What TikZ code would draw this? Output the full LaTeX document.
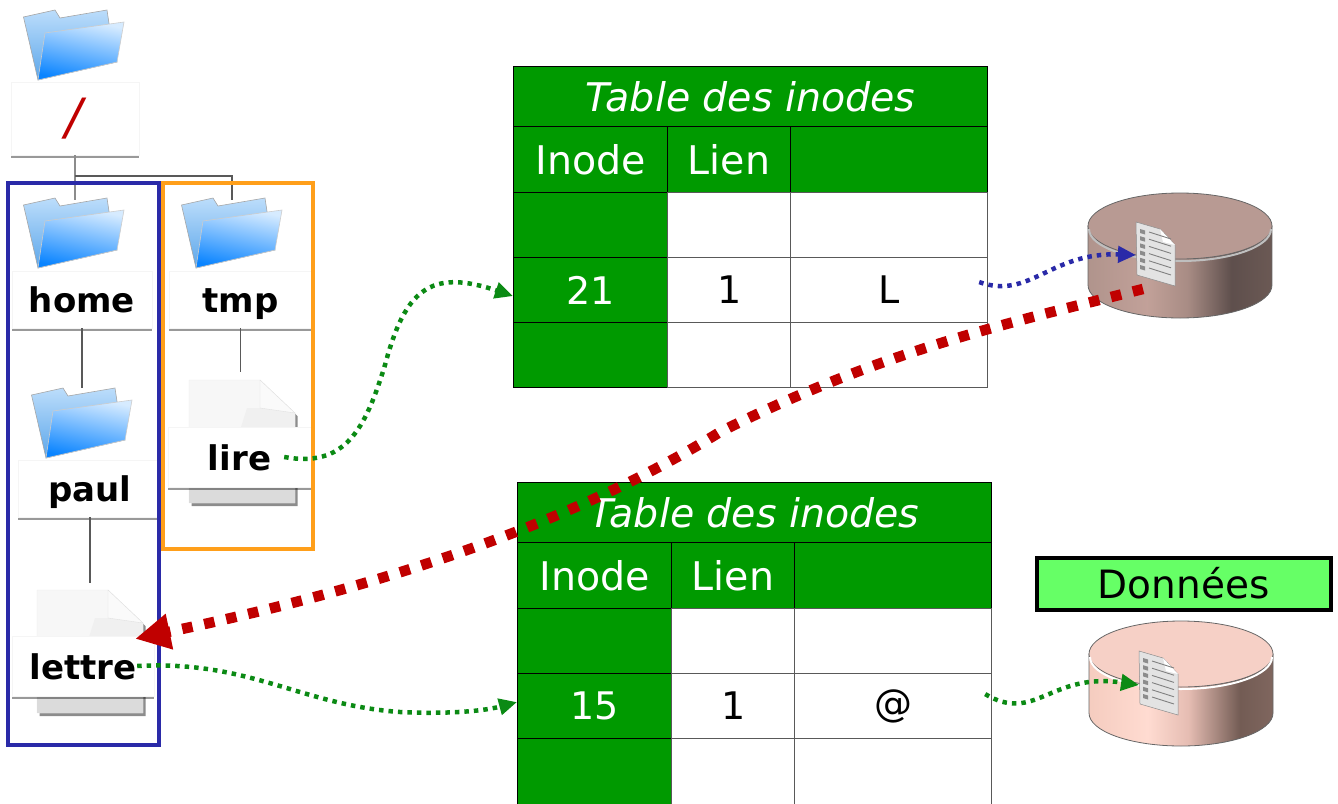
\documentclass[tikz,border=0pt]{standalone}
\usepackage{fontspec}
\setmainfont{DejaVu Sans}
\usetikzlibrary{arrows.meta,shadows}
\definecolor{tablegreen}{HTML}{009A00}
\definecolor{linkgreen}{HTML}{0B8A14}
\definecolor{linkblue}{HTML}{2A2AA8}
\definecolor{linkred}{HTML}{C00000}
\definecolor{frameorange}{HTML}{FF9F1A}
\definecolor{labelgreen}{HTML}{66FF66}
\definecolor{diskatop}{HTML}{B89A93}
\definecolor{diskbtop}{HTML}{F6D0C6}
\definecolor{folderback}{HTML}{BCDDFB}
\definecolor{folderbackb}{HTML}{5BA6EA}
\definecolor{folderfront}{HTML}{D6EBFF}
\definecolor{folderfrontb}{HTML}{0A84FF}
\pgfdeclarehorizontalshading{disksidea}{100bp}{rgb(0bp)=(.69,.58,.55);rgb(25bp)=(.69,.58,.55);rgb(41bp)=(.76,.63,.60);rgb(52bp)=(.66,.55,.52);rgb(64bp)=(.37,.31,.30);rgb(75bp)=(.42,.35,.33);rgb(100bp)=(.42,.35,.33)}
\pgfdeclarehorizontalshading{disksideb}{100bp}{rgb(0bp)=(.96,.80,.75);rgb(25bp)=(.96,.80,.75);rgb(41bp)=(1,.86,.82);rgb(52bp)=(.90,.74,.70);rgb(66bp)=(.45,.36,.33);rgb(75bp)=(.50,.40,.37);rgb(100bp)=(.50,.40,.37)}
\tikzset{
    cellgreen/.style={draw=black,line width=1.2pt,fill=tablegreen,text=white,anchor=north west,inner sep=0pt,font=\fontsize{38}{44}\selectfont},
    cellhead/.style={cellgreen,font=\fontsize{39.5}{44}\selectfont},
    cellwhite/.style={draw=black!65,line width=1.2pt,fill=white,text=black,anchor=north west,inner sep=0pt,font=\fontsize{38}{44}\selectfont},
    labelbox/.style={fill=white,draw=black!4,inner sep=0pt,
        drop shadow={shadow xshift=0pt,shadow yshift=-3pt,opacity=.4,fill=black}},
    namebox/.style={labelbox,text height=33pt,text depth=7pt,font=\fontsize{34}{40}\selectfont\bfseries},
    branch/.style={draw=black!65,line width=1.4pt},
    dotlink/.style={line width=4.5pt,dash pattern=on 4.5pt off 5pt,
        -{Triangle[length=18pt,width=16pt]}},
    folder/.pic={
        \draw[draw=black!35,line width=.6pt,top color=folderback,bottom color=folderbackb]
            (23.5,17) -- (55,10) -- (60,18) -- (107,10) -- (110,30) -- (117,62) -- (38,80) -- cycle;
        \draw[draw=black!20,line width=.6pt,top color=folderfront,bottom color=folderfrontb,shading angle=-12]
            (45,33) -- (124,22) -- (117,62) -- (38,80) -- cycle;
    },
    pagesheet/.pic={
        \draw[draw=black!8,fill=black!3,drop shadow={shadow xshift=2.5pt,shadow yshift=-3pt,opacity=.45,fill=black}]
            (0,0) -- (71,0) -- (106,33) -- (106,123) -- (0,123) -- cycle;
        \fill[black!14] (0,93) rectangle (106,123);
        \fill[black!6] (58,28) -- (71,28) -- (106,33) -- (106,60) -- (48,60) -- cycle;
        \draw[draw=black!12,fill=black!2] (71,0) -- (71,28) -- (106,33) -- cycle;
    },
    docsheet/.pic={
        \draw[draw=black!45,line width=.5pt,fill=black!11] (0,0) -- (24,7) -- (39,23) -- (39,64) -- (1,53) -- cycle;
        \fill[white] (24,7) -- (39,23) -- (27,20) -- cycle;
        \foreach \r in {0,...,5} {
            \fill[black!45] (4,7+\r*7.2) -- (9,8.5+\r*7.2) -- (9,12.5+\r*7.2) -- (4,11+\r*7.2) -- cycle;
            \draw[black!50,line width=.9pt] (13,10+\r*7.2) -- (35,17+\r*7.2);
        }
    },
}
\begin{document}
\begin{tikzpicture}[x=1pt,y=-1pt]
    \useasboundingbox (0,0) rectangle (1338,803);
    % arborescence
    \pic at (0,0) {folder};
    \pic at (0,188) {folder};
    \pic at (158,188) {folder};
    \pic at (8,378) {folder};
    \pic at (189,380) {pagesheet};
    \pic at (37,590) {pagesheet};
    \node[labelbox,minimum width=128pt,minimum height=73pt,text=linkred,font=\fontsize{50}{50}\selectfont\itshape] (root) at (75,118.5) {\kern-3pt/};
    \node[namebox,minimum width=140pt,minimum height=57pt] (home) at (82,299.5) {home};
    \node[namebox,minimum width=143pt,minimum height=57pt] (tmp) at (240.5,299.5) {tmp};
    \node[namebox,minimum width=144pt,minimum height=57pt] (paul) at (90,488.5) {paul};
    \node[namebox,minimum width=143pt,minimum height=60pt] (lire) at (239.5,457) {lire};
    \node[namebox,minimum width=142pt,minimum height=60pt] (lettre) at (83,666) {lettre};
    \coordinate (fork) at (75,176);
    \coordinate (fhome) at (75,200);
    \coordinate (ftmp) at (232,200);
    \coordinate (fpaul) at (82,388);
    \coordinate (pgpaul) at (90,583);
    \coordinate (pglire) at (240.5,372);
    \draw[branch,draw=black!45,line width=2.4pt] (root.south) -- (fhome);
    \draw[branch] (fork) -| (ftmp);
    \draw[branch] (home.south) -- (fpaul);
    \draw[branch] (tmp.south) -- (pglire);
    \draw[branch] (paul.south) -- (pgpaul);
    \draw[linkblue,line width=3.5pt] (8,183) rectangle (159,745);
    \draw[frameorange,line width=3.5pt] (163,183) rectangle (313,549);
    % tables
    \foreach \t/\xx/\yy/\num/\typ/\last in {a/513/66/21/L/65,b/517/482/15/@/72} {
        \node[cellhead,minimum width=474pt,minimum height=60pt] (\t title) at (\xx,\yy) {\itshape Table des inodes};
        \node[cellhead,minimum width=154pt,minimum height=66pt] (\t inode) at (\xx,\yy+60) {Inode};
        \node[cellhead,minimum width=123pt,minimum height=66pt] (\t lien) at (\xx+154,\yy+60) {Lien};
        \node[cellhead,minimum width=197pt,minimum height=66pt] (\t head) at (\xx+277,\yy+60) {};
        \foreach \r/\ry/\rh/\a/\b/\c in {0/126/65//{}/{},1/191/65/\num/1/\typ,2/256/\last//{}/{}} {
            \node[cellgreen,minimum width=154pt,minimum height=\rh] (\t id\r) at (\xx,\yy+\ry) {\a};
            \node[cellwhite,minimum width=123pt,minimum height=\rh] (\t nb\r) at (\xx+154,\yy+\ry) {\b};
            \node[cellwhite,minimum width=197pt,minimum height=\rh] (\t typ\r) at (\xx+277,\yy+\ry) {\c};
        }
    }
    % disques
    \foreach \d/\xx/\yy/\side/\topcol/\rimcol/\dx in {a/1180/226/disksidea/diskatop/black!25/0,b/1181/654/disksideb/diskbtop/white/2} {
        \shade[shading=\side,draw=black!60,line width=.8pt] (\xx-92,\yy) -- (\xx-92,\yy+59)
            arc[start angle=180,end angle=360,x radius=92pt,y radius=33pt] -- (\xx+92,\yy) -- cycle;
        \draw[draw=black!60,line width=.8pt,fill=\topcol] (\xx,\yy) ellipse[x radius=92pt,y radius=33pt];
        \draw[\rimcol,line width=2pt] (\xx-91,\yy+3) arc[start angle=180,end angle=360,x radius=91pt,y radius=32pt];
        \pic at (\xx-44+\dx,\yy-4+\dx/2) {docsheet};
        \coordinate (\d doc) at (\xx-44+\dx,\yy+29+\dx);
    }
    \node[draw=black,line width=4pt,fill=labelgreen,inner sep=0pt,minimum width=294pt,minimum height=52pt,font=\fontsize{39}{44}\selectfont] (donnees) at (1183.5,583.5) {Données};
    % liens
    \draw[dotlink,linkgreen] ([xshift=-27pt]lire.east) .. controls (345,468) and (365,430) .. (385,365)
        .. controls (405,290) and (430,268) .. ([yshift=-6pt]aid1.west);
    \draw[dotlink,linkgreen] ([xshift=-17pt]lettre.east) .. controls (250,660) and (300,705) .. (400,712)
        .. controls (440,714) and (480,712) .. ([yshift=4pt]bid1.west);
    \draw[dotlink,linkblue] ([xshift=-9pt,yshift=8pt]atyp1.east) .. controls (1030,300) and (1050,252) .. (adoc);
    \draw[dotlink,linkgreen] ([xshift=-7pt,yshift=12pt]btyp1.east) .. controls (1035,724) and (1050,672) .. (bdoc);
    \draw[linkred,line width=10.5pt,dash pattern=on 10.5pt off 12pt,-{Triangle[length=35pt,width=34pt]}]
        (1143,289) .. controls (1000,325) and (880,352) .. (720,432)
        .. controls (610,500) and (440,575) .. ([xshift=-19pt,yshift=-3pt]lettre.north east);
\end{tikzpicture}
\end{document}
